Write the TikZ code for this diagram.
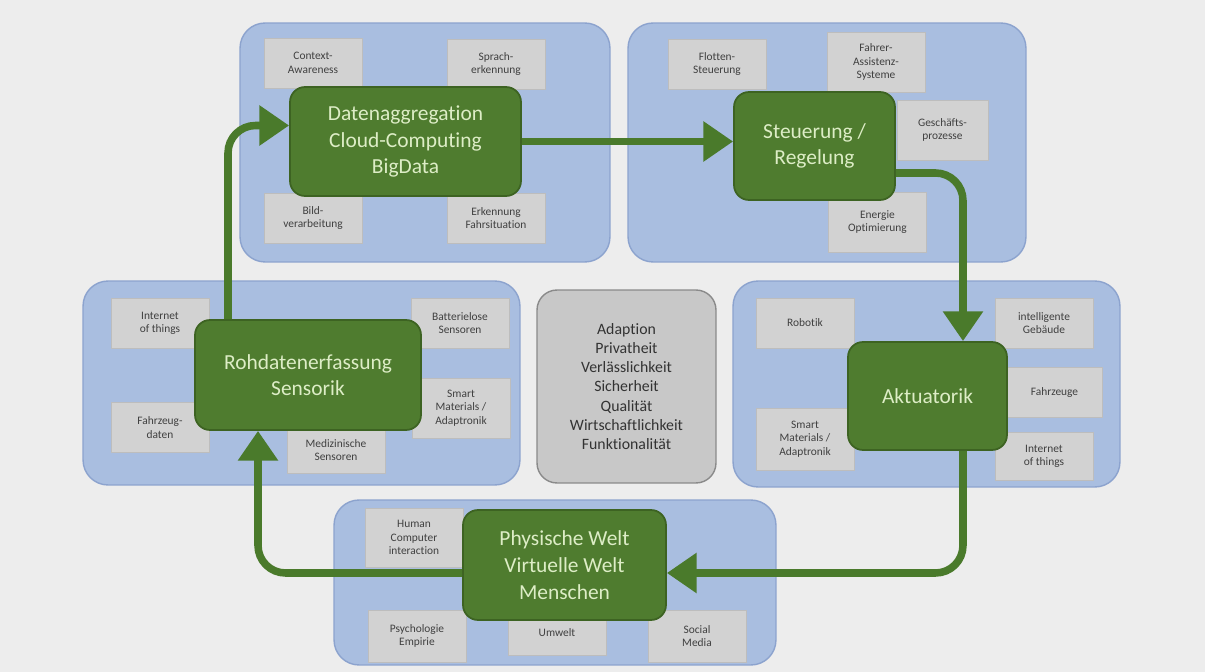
\documentclass[tikz,border=0pt]{standalone}
\usepackage{fontspec}
\setmainfont{Carlito}[Ligatures=NoCommon]
\usepackage{tikz}
\usetikzlibrary{arrows.meta,positioning,calc}

\definecolor{pagebg}{HTML}{EDEDED}
\definecolor{clusterfill}{HTML}{A9BEE0}
\definecolor{clusterline}{HTML}{8CA3CE}
\definecolor{corefill}{HTML}{4F7C2F}
\definecolor{coreline}{HTML}{3D6322}
\definecolor{coretext}{HTML}{DDEDC6}
\definecolor{topicfill}{HTML}{D2D2D2}
\definecolor{topicline}{HTML}{BDBDBD}
\definecolor{topictext}{HTML}{404040}
\definecolor{flowgreen}{HTML}{4A7A2B}
\definecolor{critfill}{HTML}{C8C8C8}
\definecolor{critline}{HTML}{8A8A8A}

\begin{document}
\begin{tikzpicture}[x=0.02cm, y=-0.02cm]
  \tikzset{align=center}
  \tikzset{cluster/.style = {draw=clusterline, fill=clusterfill, rounded corners=0.5cm, line width=0.8pt, inner sep=0pt}}
  \tikzset{core/.style = {draw=coreline, fill=corefill, rounded corners=0.3cm, line width=1pt, text=coretext, font=\fontsize{12.2}{15.2}\selectfont}}
  \tikzset{topic/.style = {draw=topicline, fill=topicfill, minimum width=1.96cm, minimum height=1cm, inner sep=1pt, text=topictext, font=\fontsize{6.5}{7.6}\selectfont}}
  \tikzset{flow/.style = {draw=flowgreen, line width=4.3pt, rounded corners=0.55cm, -{Triangle[width=22pt,length=17pt]}}}

  \useasboundingbox (0,0) rectangle (1205,672);
  \fill[pagebg] (0,0) rectangle (1205,672);

  % fields
  \node[cluster, minimum width=7.4cm, minimum height=4.78cm] (c1) at (425,142.5) {};
  \node[cluster, minimum width=7.96cm, minimum height=4.78cm] (c2) at (827,142.5) {};
  \node[cluster, minimum width=8.74cm, minimum height=4.08cm] (c3) at (301.5,383) {};
  \node[cluster, minimum width=7.74cm, minimum height=4.12cm] (c4) at (926.5,384) {};
  \node[cluster, minimum width=8.84cm, minimum height=3.3cm] (c5) at (555,582.5) {};

  % topics
  \node[topic] (ctx) at (313,63) {Context-\\Awareness};
  \node[topic] (spr) at (496,64) {Sprach-\\erkennung};
  \node[topic] (bild) at (313,218) {Bild-\\verarbeitung};
  \node[topic] (fsit) at (496,218) {Erkennung\\Fahrsituation};

  \node[topic] (flot) at (717,64) {Flotten-\\Steuerung};
  \node[topic, minimum height=1.2cm] (fas) at (876,62) {Fahrer-\\Assistenz-\\Systeme};
  \node[topic, minimum width=1.82cm, minimum height=1.2cm] (gesch) at (942.5,130) {Geschäfts-\\prozesse};
  \node[topic, minimum height=1.2cm] (ener) at (877.5,222) {Energie\\Optimierung};

  \node[topic] (iot1) at (160,323) {Internet\\of things};
  \node[topic] (batt) at (460,323) {Batterielose\\Sensoren};
  \node[topic] (fzd) at (160,427.5) {Fahrzeug-\\daten};
  \node[topic, minimum height=1.2cm] (sm1) at (461,408) {Smart\\Materials /\\Adaptronik};
  \node[topic, minimum height=0.92cm] (med) at (336,450) {Medizinische\\Sensoren};

  \node[topic] (rob) at (805,323) {Robotik};
  \node[topic] (geb) at (1044,323) {intelligente\\Gebäude};
  \node[topic, minimum width=1.9cm] (fzg) at (1054.5,392.5) {Fahrzeuge};
  \node[topic, minimum height=0.96cm] (iot2) at (1044,456) {Internet\\of things};
  \node[topic, minimum height=1.24cm] (sm2) at (805,439) {Smart\\Materials /\\Adaptronik};

  \node[topic, minimum height=1.18cm] (hci) at (414,537.5) {Human\\Computer\\interaction};
  \node[topic, minimum height=1.04cm] (psy) at (417,636) {Psychologie\\Empirie};
  \node[topic, minimum height=0.9cm] (umw) at (557,632.5) {Umwelt};
  \node[topic, minimum height=1.04cm] (soc) at (697,636) {Social\\Media};

  % criteria
  \node[draw=critline, fill=critfill, rounded corners=0.4cm, line width=0.8pt,
        minimum width=3.58cm, minimum height=3.86cm, text=black!80,
        font=\fontsize{9}{10.9}\selectfont] (crit) at (626.5,386.5)
        {Adaption\\Privatheit\\Verlässlichkeit\\Sicherheit\\Qualität\\Wirtschaftlichkeit\\Funktionalität};

  % core blocks
  \node[core, minimum width=4.62cm, minimum height=2.18cm] (dat) at (405.5,141.5) {Datenaggregation\\Cloud-Computing\\BigData};
  \node[core, minimum width=3.22cm, minimum height=2.16cm] (steu) at (814.5,146) {Steuerung /\\Regelung};
  \node[core, minimum width=4.52cm, minimum height=2.2cm] (roh) at (308,375) {Rohdatenerfassung\\Sensorik};
  \node[core, minimum width=3.18cm, minimum height=2.16cm] (akt) at (927.5,396) {Aktuatorik};
  \node[core, minimum width=4.06cm, minimum height=2.2cm] (phy) at (564.5,565) {Physische Welt\\Virtuelle Welt\\Menschen};

  % cycle
  \draw[flow] ([xshift=-1.6cm]roh.north) |- ([yshift=0.32cm]dat.west);
  \draw[flow] (dat.east) -- (dat.east -| steu.west);
  \draw[flow] ([yshift=-0.54cm]steu.east) -| ([xshift=0.71cm]akt.north);
  \draw[flow] ([xshift=0.71cm]akt.south) |- ([yshift=-0.16cm]phy.east);
  \draw[flow] ([yshift=-0.16cm]phy.west) -| ([xshift=-1cm]roh.south);
\end{tikzpicture}
\end{document}
